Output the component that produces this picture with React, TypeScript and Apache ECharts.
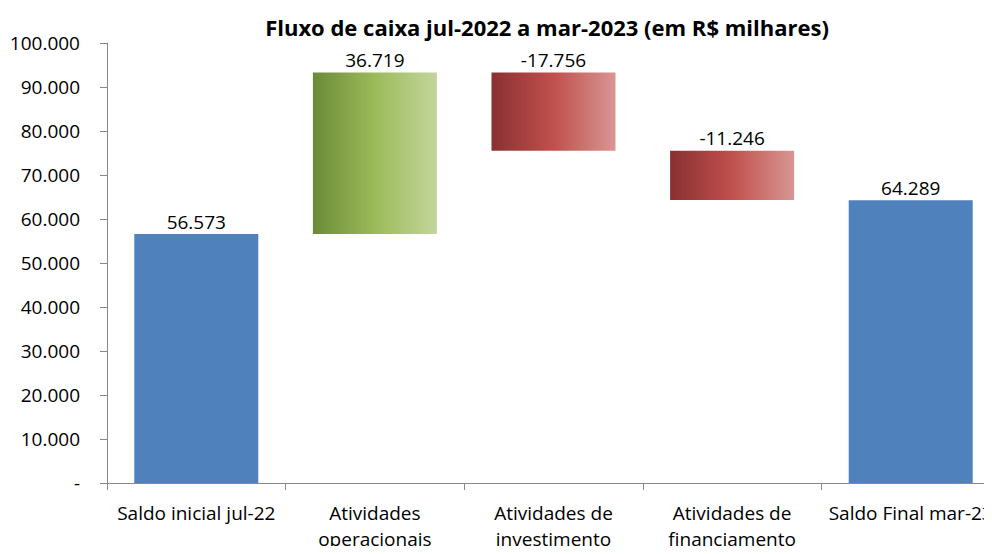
import React, { useEffect, useRef } from "react";
import * as echarts from "echarts";

const categories = [
  "Saldo inicial jul-22",
  "Atividades\noperacionais",
  "Atividades de\ninvestimento",
  "Atividades de\nfinanciamento",
  "Saldo Final mar-23",
];
// cash flows in R$ thousands
const values = [56573, 36719, -17756, -11246, 64289];
const kinds = ["total", "pos", "neg", "neg", "total"];
const yTicks = { min: 0, max: 100000, interval: 10000 };

const fmt = (v: number) => {
  const s = Math.abs(Math.round(v)).toString().replace(/\B(?=(\d{3})+(?!\d))/g, ".");
  return (v < 0 ? "-" : "") + s;
};

const blue = "#4f81bd";
const green = new echarts.graphic.LinearGradient(0, 0, 1, 0, [
  { offset: 0, color: "#6b8a38" },
  { offset: 0.5, color: "#9bbb59" },
  { offset: 1, color: "#c3d69b" },
]);
const red = new echarts.graphic.LinearGradient(0, 0, 1, 0, [
  { offset: 0, color: "#893032" },
  { offset: 0.5, color: "#c0504d" },
  { offset: 1, color: "#d99694" },
]);

export default function App() {
  const ref = useRef<HTMLDivElement>(null);
  useEffect(() => {
    if (!ref.current) return;
    const chart = echarts.init(ref.current, null, { renderer: "svg" });
    const base: number[] = [];
    const height: number[] = [];
    let running = 0;
    values.forEach((v, i) => {
      if (kinds[i] === "total") {
        base.push(0);
        height.push(v);
        running = v;
      } else if (v >= 0) {
        base.push(running);
        height.push(v);
        running += v;
      } else {
        running += v;
        base.push(running);
        height.push(-v);
      }
    });
    const font = "'Open Sans', 'Noto Sans', sans-serif";
    chart.setOption({
      animation: false,
      title: {
        text: "Fluxo de caixa jul-2022 a mar-2023 (em R$ milhares)",
        left: 542,
        textAlign: "center",
        top: 11,
        textStyle: { fontFamily: font, fontSize: 22, fontWeight: "bold", color: "#000" },
      },
      grid: { left: 107, top: 43, width: 893, height: 440, containLabel: false },
      xAxis: {
        type: "category",
        data: categories,
        axisLine: { lineStyle: { color: "#888" } },
        axisTick: { show: true, length: 7, lineStyle: { color: "#888" } },
        axisLabel: {
          interval: 0,
          margin: 17,
          fontFamily: font,
          fontSize: 19,
          lineHeight: 26,
          color: "#000",
        },
      },
      yAxis: {
        type: "value",
        min: yTicks.min,
        max: yTicks.max,
        interval: yTicks.interval,
        splitLine: { show: false },
        axisLine: { show: true, lineStyle: { color: "#888" } },
        axisTick: { show: true, length: 7, lineStyle: { color: "#888" } },
        axisLabel: {
          margin: 27,
          fontFamily: font,
          fontSize: 19,
          color: "#000",
          formatter: (v: number) => (v === 0 ? "-" : fmt(v)),
        },
      },
      series: [
        {
          type: "bar",
          stack: "w",
          data: base,
          barWidth: 124,
          itemStyle: { color: "transparent" },
          silent: true,
        },
        {
          type: "bar",
          stack: "w",
          barWidth: 124,
          data: height.map((h, i) => ({
            value: h,
            itemStyle: {
              color: kinds[i] === "total" ? blue : kinds[i] === "pos" ? green : red,
            },
          })),
          label: {
            show: true,
            position: "top",
            distance: 3,
            fontFamily: font,
            fontSize: 19,
            color: "#000",
            formatter: (p: any) => fmt(values[p.dataIndex]),
          },
        },
      ],
    });
    return () => chart.dispose();
  }, []);
  return (
    <div style={{ width: 992, height: 554, margin: -8, overflow: "hidden", position: "relative" }}>
      <div ref={ref} style={{ width: 1010, height: 554 }} />
    </div>
  );
}
